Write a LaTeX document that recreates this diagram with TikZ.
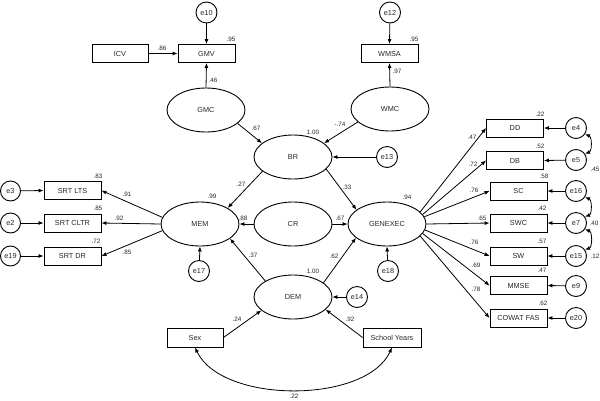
\documentclass[tikz,border=0pt]{standalone}
\usepackage{fontspec}
\setmainfont{Liberation Sans}
\usetikzlibrary{shapes.geometric,arrows.meta}
\begin{document}
\begin{tikzpicture}[x=1pt,y=-1pt,
  every node/.style={font=\fontsize{7.3}{8}\selectfont,text=black!85},
  obs/.style={draw,line width=0.9pt,minimum width=57pt,minimum height=18pt,inner sep=0pt},
  lat/.style={draw,ellipse,line width=0.9pt,minimum width=78pt,minimum height=44pt,inner sep=0pt},
  err/.style={draw,circle,line width=0.9pt,minimum size=21pt,inner sep=0pt},
  lbl/.style={font=\fontsize{6.3}{7}\selectfont,inner sep=0pt},
  path/.style={-{Latex[length=5pt,width=4pt]},line width=0.8pt},
  cov/.style={{Latex[length=5pt,width=4pt]}-{Latex[length=5pt,width=4pt]},line width=0.8pt},
]
\useasboundingbox (0,0) rectangle (600,400);
% top
\node[err] (e10) at (206.5,12.5) {e10};
\node[obs] (GMV) at (206.5,53.5) {GMV};
\node[obs,minimum width=56pt] (ICV) at (120,53.5) {ICV};
\node[err] (e12) at (390,12.5) {e12};
\node[obs] (WMSA) at (389.5,53.5) {WMSA};
\node[lat] (GMC) at (206,110) {GMC};
\node[lat] (WMC) at (390,109) {WMC};
\node[lat] (BR) at (293,157) {BR};
\node[err] (e13) at (387,157) {e13};
\node[lat] (MEM) at (200,224) {MEM};
\node[lat] (CR) at (293,224) {CR};
\node[lat] (GEN) at (387,224) {GENEXEC};
\node[lat] (DEM) at (293,297) {DEM};
\node[err] (e17) at (199,271) {e17};
\node[err] (e18) at (388,271) {e18};
\node[err] (e14) at (357,297) {e14};
\node[obs,minimum width=56pt,minimum height=19pt] (Sex) at (195,337.5) {Sex};
\node[obs,minimum width=58pt,minimum height=19pt] (SY) at (392,337.5) {School Years};
% left
\node[obs] (LTS) at (72.5,190.5) {SRT LTS};
\node[obs] (CLTR) at (72.5,223) {SRT CLTR};
\node[obs] (DR) at (72.5,256) {SRT DR};
\node[err,minimum size=20pt] (e3) at (10.5,191) {e3};
\node[err,minimum size=20pt] (e2) at (10.5,223) {e2};
\node[err,minimum size=20pt] (e19) at (10.5,256) {e19};
% right
\node[obs] (DD) at (515,128) {DD};
\node[obs] (DB) at (515,160.5) {DB};
\node[obs] (SC) at (518.5,191) {SC};
\node[obs] (SWC) at (518.5,223) {SWC};
\node[obs] (SW) at (518.5,256) {SW};
\node[obs] (MMSE) at (518.5,285.5) {MMSE};
\node[obs] (COW) at (518.5,318) {COWAT FAS};
\node[err] (e4) at (576,128) {e4};
\node[err] (e5) at (576,160) {e5};
\node[err] (e16) at (576,191) {e16};
\node[err] (e7) at (576,223) {e7};
\node[err] (e15) at (576,256) {e15};
\node[err] (e9) at (576,286) {e9};
\node[err] (e20) at (576,318) {e20};
% paths
\draw[path] (e10) -- (GMV.north);
\draw[path] (ICV.east) -- (GMV.west);
\draw[path] (GMC.north) -- (GMV.south);
\draw[path] (e12) -- (WMSA.north);
\draw[path] (WMC.north) -- (WMSA.south);
\draw[path] (GMC.-23) -- (BR.156);
\draw[path] (WMC.202) -- (BR.24);
\draw[path] (e13) -- (BR.east);
\draw[path] (BR.205) -- (MEM.30);
\draw[path] (BR.-20) -- (GEN.155);
\draw[path] (CR.west) -- (MEM.east);
\draw[path] (CR.east) -- (GEN.west);
\draw[path] (e17) -- (MEM.south);
\draw[path] (e18) -- (GEN.south);
\draw[path] (DEM.150) -- (MEM.-26);
\draw[path] (DEM.25) -- (GEN.204);
\draw[path] (e14) -- (DEM.east);
\draw[path] (Sex.east) -- (DEM.203);
\draw[path] (SY.west) -- (DEM.-21);
\draw[cov] (Sex.south) .. controls (222,404) and (366,404) .. (SY.south);
\draw[path] (MEM.170) -- (LTS.east);
\draw[path] (MEM.180) -- (CLTR.east);
\draw[path] (MEM.190) -- (DR.east);
\draw[path] (e3) -- (LTS.west);
\draw[path] (e2) -- (CLTR.west);
\draw[path] (e19) -- (DR.west);
\draw[path] (GEN.20) -- (DD.west);
\draw[path] (GEN.15) -- (DB.west);
\draw[path] (GEN.11) -- (SC.west);
\draw[path] (GEN.0) -- (SWC.west);
\draw[path] (GEN.-9) -- (SW.west);
\draw[path] (GEN.-15) -- (MMSE.west);
\draw[path] (GEN.-20) -- (COW.west);
\draw[path] (e4) -- (DD.east);
\draw[path] (e5) -- (DB.east);
\draw[path] (e16) -- (SC.east);
\draw[path] (e7) -- (SWC.east);
\draw[path] (e15) -- (SW.east);
\draw[path] (e9) -- (MMSE.east);
\draw[path] (e20) -- (COW.east);
\draw[cov] (e4.-35) to[bend left=70] (e5.35);
\draw[cov] (e16.-35) to[bend left=70] (e7.35);
\draw[cov] (e7.-35) to[bend left=70] (e15.35);
% labels
\node[lbl] (l1) at (231,39) {.95};
\node[lbl] (l2) at (162,48) {.86};
\node[lbl] (l3) at (213,80) {.46};
\node[lbl] (l4) at (414,39) {.95};
\node[lbl] (l5) at (397,71) {.97};
\node[lbl] (l6) at (256,128) {.67};
\node[lbl] (l7) at (340,124) {-.74};
\node[lbl] (l8) at (313,132) {1.00};
\node[lbl] (l9) at (241,184) {.27};
\node[lbl] (l10) at (347,187) {.33};
\node[lbl] (l11) at (212,196) {.99};
\node[lbl] (l12) at (407,197) {.94};
\node[lbl] (l13) at (243,218) {.88};
\node[lbl] (l14) at (340,218) {.67};
\node[lbl] (l15) at (253,255) {.37};
\node[lbl] (l16) at (334,256) {.62};
\node[lbl] (l17) at (313,271) {1.00};
\node[lbl] (l18) at (237,319) {.24};
\node[lbl] (l19) at (350,319) {.92};
\node[lbl] (l20) at (294,396) {.22};
\node[lbl] (l21) at (98,176) {.83};
\node[lbl] (l22) at (98,208) {.85};
\node[lbl] (l23) at (96,241) {.72};
\node[lbl] (l24) at (127,194) {.91};
\node[lbl] (l25) at (119,218) {.92};
\node[lbl] (l26) at (127,252) {.85};
\node[lbl] (l27) at (540,114) {.22};
\node[lbl] (l28) at (540,146) {.52};
\node[lbl] (l29) at (544,176) {.58};
\node[lbl] (l30) at (542,208) {.42};
\node[lbl] (l31) at (542,241) {.57};
\node[lbl] (l32) at (542,270) {.47};
\node[lbl] (l33) at (543,303) {.62};
\node[lbl] (l34) at (472,137) {.47};
\node[lbl] (l35) at (473,164) {.72};
\node[lbl] (l36) at (474,190) {.76};
\node[lbl] (l37) at (482,218) {.65};
\node[lbl] (l38) at (474,242) {.76};
\node[lbl] (l39) at (476,265) {.69};
\node[lbl] (l40) at (476,289) {.78};
\node[lbl] (l41) at (595,169) {.45};
\node[lbl] (l42) at (594,223) {.40};
\node[lbl] (l43) at (595,256) {.12};
\end{tikzpicture}
\end{document}
